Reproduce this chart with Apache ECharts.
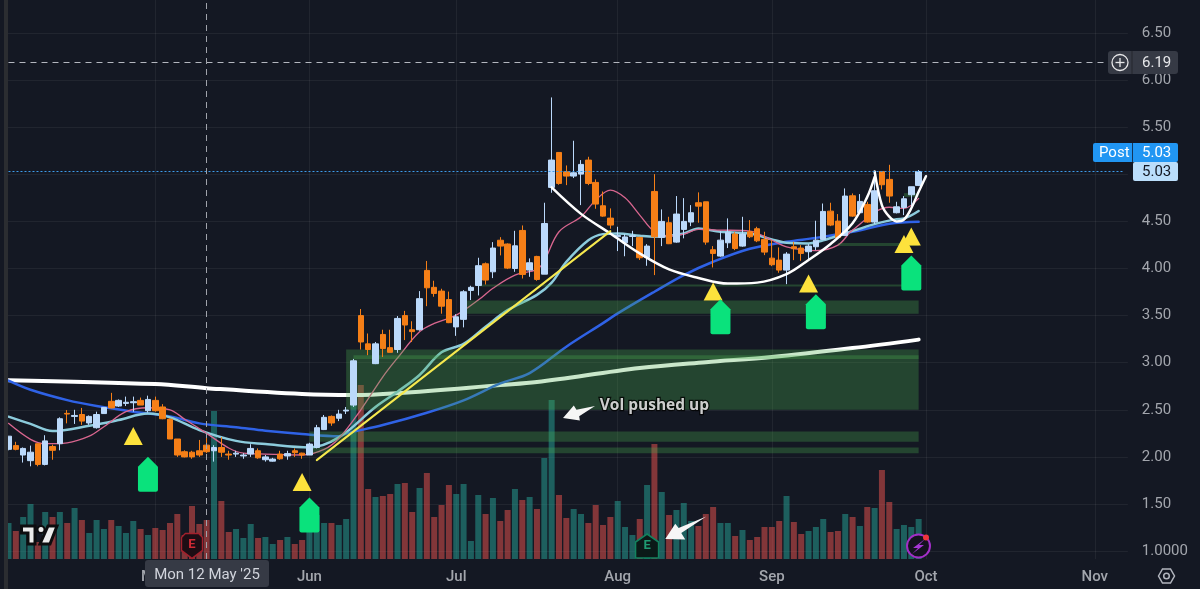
<!DOCTYPE html>
<html><head><meta charset="utf-8">
<script src="https://cdn.jsdelivr.net/npm/echarts@6/dist/echarts.min.js"></script>
<style>html,body{margin:0;padding:0;background:#141823}#c{width:1200px;height:589px}</style>
</head><body><div id="c"></div>
<script>
// trading days, Apr 2 2025 .. Sep 30 2025, then future slots
const monthDays = {
  Apr:[2,3,4,7,8,9,10,11,14,15,16,17,21,22,23,24,25,28,29,30],
  May:[1,2,5,6,7,8,9,12,13,14,15,16,19,20,21,22,23,27,28,29,30],
  Jun:[2,3,4,5,6,9,10,11,12,13,16,17,18,20,23,24,25,26,27,30],
  Jul:[1,2,3,7,8,9,10,11,14,15,16,17,18,21,22,23,24,25,28,29,30,31],
  Aug:[1,4,5,6,7,8,11,12,13,14,15,18,19,20,21,22,25,26,27,28,29],
  Sep:[2,3,4,5,8,9,10,11,12,15,16,17,18,19,22,23,24,25,26,29,30],
  Oct:[1,2,3,6,7,8,9,10,13,14,15,16,17,20,21,22,23,24,27,28,29,30,31],
  Nov:[3,4,5,6,7]
};
const categories = Object.keys(monthDays).flatMap(m => monthDays[m].map(d => m + ' ' + d));
const monthTicks = {20:'May',41:'Jun',61:'Jul',83:'Aug',104:'Sep',125:'Oct',148:'Nov'};
const priceLabels = {1:'1.0000',1.5:'1.50',2:'2.00',2.5:'2.50',3:'3.00',3.5:'3.50',4:'4.00',4.5:'4.50',5:'',5.5:'5.50',6:'6.00',6.5:'6.50'};

// open, close, low, high
const candles = [
[2.08,2.22,2.07,2.22],[2.12,2.08,2.07,2.16],[2.02,2.09,1.94,2.10],[1.96,2.05,1.90,2.12],[2.14,1.92,1.90,2.14],
[1.92,2.17,1.91,2.23],[2.11,2.07,1.97,2.13],[2.14,2.405,2.07,2.42],[2.462,2.455,2.356,2.497],[2.43,2.44,2.35,2.50],
[2.45,2.38,2.34,2.52],[2.36,2.43,2.34,2.44],[2.31,2.45,2.30,2.48],[2.46,2.525,2.46,2.53],[2.59,2.52,2.515,2.68],
[2.54,2.60,2.53,2.61],[2.568,2.58,2.54,2.64],[2.575,2.586,2.48,2.64],[2.60,2.55,2.55,2.63],[2.49,2.61,2.47,2.65],
[2.60,2.49,2.48,2.64],[2.53,2.405,2.40,2.56],[2.40,2.19,2.19,2.41],[2.19,2.02,2.00,2.19],[2.055,2.00,1.995,2.07],
[2.05,2.00,1.98,2.065],[2.065,2.02,2.00,2.18],[2.125,2.055,2.04,2.23],[2.065,2.10,1.95,2.125],[2.10,2.05,2.00,2.21],
[2.03,2.02,1.97,2.065],[2.03,2.04,2.00,2.065],[2.01,2.02,1.98,2.04],[2.03,2.09,2.00,2.135],[2.065,1.99,1.98,2.09],
[1.97,2.00,1.95,2.02],[1.955,1.977,1.95,1.99],[2.03,1.98,1.97,2.065],[2.01,2.035,1.97,2.065],[2.065,2.045,2.00,2.09],
[2.04,2.02,1.98,2.045],[2.02,2.136,2.02,2.15],[2.10,2.31,2.09,2.34],[2.29,2.42,2.285,2.445],[2.43,2.36,2.33,2.44],
[2.41,2.455,2.38,2.50],[2.487,2.497,2.455,2.53],[2.55,3.02,2.53,3.04],[3.50,3.22,3.14,3.57],[3.20,3.14,3.08,3.31],
[2.99,3.20,2.985,3.22],[3.30,3.15,3.06,3.35],[3.16,3.11,3.11,3.35],[3.14,3.47,3.105,3.495],[3.50,3.40,3.24,3.55],
[3.35,3.33,3.22,3.44],[3.35,3.68,3.34,3.76],[3.98,3.795,3.60,4.08],[3.80,3.735,3.70,3.87],[3.76,3.60,3.52,3.785],
[3.67,3.425,3.42,3.755],[3.38,3.487,3.285,3.515],[3.46,3.753,3.375,3.77],[3.767,3.80,3.665,3.817],[3.82,4.03,3.714,4.114],
[4.05,3.877,3.83,4.064],[3.965,4.217,3.898,4.28],[4.30,4.238,4.139,4.333],[4.26,4.004,3.994,4.266],[4.00,4.241,3.965,4.40],
[4.404,3.937,3.894,4.457],[3.983,4.061,3.912,4.107],[4.128,3.884,3.87,4.135],[3.94,4.478,3.94,4.698],[4.861,5.151,4.804,5.816],
[5.232,4.903,4.889,5.232],[5.027,4.981,4.885,5.094],[4.981,5.016,4.96,5.356],[5.002,5.105,4.673,5.151],[5.151,4.903,4.885,5.186],
[4.914,4.684,4.634,4.946],[4.666,4.556,4.549,4.818],[4.535,4.461,4.422,4.638],[4.337,4.351,4.185,4.443],[4.273,4.335,4.13,4.365],
[4.34,4.347,4.238,4.40],[4.33,4.114,4.09,4.337],[4.117,4.238,4.029,4.259],[4.818,4.337,3.93,5.002],[4.33,4.50,4.238,4.627],
[4.486,4.263,4.259,4.549],[4.28,4.578,4.273,4.769],[4.415,4.50,4.32,4.747],[4.493,4.592,4.45,4.673],[4.698,4.662,4.486,4.808],
[4.708,4.28,4.252,4.708],[4.199,4.16,4.011,4.238],[4.132,4.301,4.125,4.397],[4.273,4.386,4.217,4.532],[4.365,4.213,4.195,4.386],
[4.238,4.365,4.231,4.549],[4.39,4.337,4.323,4.514],[4.422,4.294,4.28,4.443],[4.309,4.174,4.142,4.39],[4.11,4.04,4.025,4.301],
[4.089,3.983,3.955,4.224],[3.983,4.153,3.834,4.174],[4.231,4.21,4.089,4.284],[4.217,4.16,4.082,4.248],[4.178,4.238,4.082,4.259],
[4.231,4.301,4.195,4.507],[4.309,4.606,4.301,4.69],[4.609,4.461,4.45,4.698],[4.503,4.33,4.319,4.578],[4.351,4.769,4.344,4.85],
[4.772,4.556,4.549,4.797],[4.592,4.712,4.585,4.79],[4.68,4.493,4.486,4.708],[4.493,4.825,4.471,5.016],[5.03,4.889,4.839,5.03],
[4.946,4.769,4.698,5.101],[4.592,4.655,4.585,4.708],[4.648,4.74,4.567,4.769],[4.783,4.868,4.627,4.868],[4.882,5.03,4.875,5.045]
];
const volumes = [36,28,42,55,17,47,42,47,36,51,39,26,39,30,39,33,26,38,30,24,31,29,36,45,24,53,35,39,148,58,27,30,21,35,21,22,15,19,22,15,19,35,44,36,36,34,40,160,174,70,62,63,65,75,76,47,71,86,42,54,74,65,75,18,64,45,61,38,49,70,59,62,50,101,159,64,41,50,45,36,54,34,42,58,32,24,40,74,115,67,44,49,56,38,33,45,52,36,36,23,29,19,22,32,32,38,63,37,25,28,32,40,27,28,45,42,33,52,51,89,57,30,34,32,40];

// moving averages read at selected bars: [bar, price]
const maWhite = [[0,2.815],[20,2.773],[27,2.73],[40,2.667],[47,2.656],[53,2.677],[67,2.762],[72,2.794],[86,2.943],[95,3.006],[104,3.06],[115,3.155],[124,3.245]];
const maBlue = [[0,2.81],[3,2.713],[8,2.603],[12,2.54],[17,2.48],[22,2.43],[26,2.356],[31,2.315],[35,2.278],[40,2.243],[45,2.22],[46,2.249],[51,2.338],[57,2.469],[62,2.60],[67,2.78],[71,2.89],[76,3.17],[81,3.42],[83,3.523],[88,3.753],[92,3.93],[96,4.072],[101,4.21],[106,4.284],[110,4.325],[115,4.39],[120,4.475],[124,4.496]];
const maCyan = [[0,2.427],[3,2.35],[6,2.274],[11,2.33],[15,2.391],[19,2.46],[22,2.42],[26,2.285],[31,2.17],[35,2.136],[41,2.10],[45,2.207],[50,2.53],[53,2.692],[56,2.87],[59,3.11],[62,3.20],[65,3.382],[68,3.558],[72,3.72],[74,3.85],[76,4.07],[79,4.30],[81,4.365],[83,4.372],[86,4.348],[88,4.337],[92,4.372],[94,4.425],[97,4.39],[101,4.372],[104,4.309],[106,4.273],[109,4.266],[111,4.30],[114,4.372],[118,4.471],[121,4.524],[122,4.531],[124,4.61]];
const maPink = [[0,2.356],[3,2.186],[5,2.14],[8,2.15],[11,2.22],[13,2.32],[16,2.48],[19,2.522],[22,2.50],[24,2.40],[27,2.25],[30,2.095],[32,2.04],[35,2.03],[40,2.02],[43,2.08],[45,2.196],[48,2.50],[51,2.85],[53,3.05],[56,3.328],[58,3.417],[61,3.505],[64,3.665],[66,3.79],[69,3.93],[72,3.99],[73,4.08],[75,4.39],[78,4.55],[80,4.726],[82,4.832],[84,4.75],[86,4.567],[88,4.39],[90,4.344],[92,4.365],[94,4.415],[97,4.408],[101,4.397],[104,4.30],[106,4.23],[110,4.19],[113,4.248],[115,4.408],[120,4.65],[122,4.638],[124,4.744]];

// hand-drawn overlays
const curveBowl = [[74,4.861],[78,4.58],[82,4.372],[86,4.16],[90,3.99],[94,3.90],[98,3.84],[102,3.85],[106,3.94],[109,4.09],[112,4.26],[115,4.48],[117,4.76],[118,4.97]];
const curveCup = [[118,5.03],[119,4.67],[120,4.55],[121,4.50],[122,4.52],[123,4.64],[124,4.815],[125,4.98]];
const trendLine = [[42,1.966],[82,4.397]];

// shaded price zones: start bar, end bar, upper, lower
const zones = [[46,124,3.14,2.50],[47,124,3.08,3.04],[62,124,3.66,3.52],[64,124,3.83,3.81],[113,124,4.27,4.24],[122,124,4.80,4.76],[46,124,2.27,2.16],[41,124,2.10,2.04],[41,46,2.27,2.16]];

const triangles = [[17,2.221],[40,1.733],[96,3.755],[109,3.84],[122,4.259],[123,4.339]];
const arrows = [[19,1.817],[41,1.382],[97,3.489],[110,3.541],[123,3.951]];
const earningsRed = [25];
const earningsGreen = [87];
const crosshairBar = 27, crosshairLevel = 6.19, lastPrice = 5.03;

const BG='#141823', GRID='rgba(255,255,255,0.06)', LABEL='#a3a6ad', FONT='Roboto';
const UP='#bbd9fb', DOWN='#f57f17';
const gridLeft=4.83, gridWidth=1123;
const labelBarNote = 'Vol pushed up';

const line = (name,data,color,width,z,smooth) => ({type:'line',name,data,xAxisIndex:0,yAxisIndex:0,z,symbol:'none',silent:true,smooth:smooth===undefined?0.35:smooth,smoothMonotone:null,lineStyle:{color,width,cap:'round',join:'round'},clip:false});
const housePath='path://M10,0 L20,10 L20,33 Q20,35 18,35 L2,35 Q0,35 0,33 L0,10 Z';
const badgePath='path://M4,0 L18,0 L22,4 L22,17 L11,25 L0,17 L0,4 Z';
const hexGreenPath='path://M11.5,0 L23,8 L23,24 L0,24 L0,8 Z';

const option = {
  animation:false, backgroundColor:BG,
  grid:[
    {left:gridLeft,width:gridWidth,top:33,height:518.1},
    {left:gridLeft,width:gridWidth,top:0,height:559}
  ],
  xAxis:[
    {type:'category',gridIndex:0,data:categories,show:false},
    {type:'category',gridIndex:1,data:categories,axisLine:{show:false},axisTick:{show:false},splitLine:{show:false},
     axisLabel:{show:true,margin:11,color:LABEL,fontFamily:FONT,fontSize:15,fontWeight:500,hideOverlap:false,
       interval:(i)=>monthTicks[i]!==undefined,formatter:(v,i)=>monthTicks[i]||''}}
  ],
  yAxis:[
    {type:'value',gridIndex:0,position:'right',min:1,max:6.5,interval:0.5,axisLine:{show:false},axisTick:{show:false},
     splitLine:{lineStyle:{color:GRID,width:1}},
     axisLabel:{margin:14,padding:[2,0,0,0],color:LABEL,fontFamily:FONT,fontSize:15,align:'left',formatter:v=>priceLabels[v]!==undefined?priceLabels[v]:''}},
    {type:'value',gridIndex:1,min:0,max:559,show:false,splitLine:{show:false}}
  ],
  series:[
    {type:'bar',name:'Volume',xAxisIndex:1,yAxisIndex:1,barWidth:6,z:1,silent:true,
     data:volumes.map((v,i)=>({value:v,itemStyle:{color:candles[i][1]>=candles[i][0]?'rgba(38,166,154,0.5)':'rgba(239,83,80,0.5)'}})),
     markLine:{silent:true,symbol:'none',z:0,animation:false,label:{show:false},lineStyle:{color:GRID,type:'solid',width:1},
       data:Object.keys(monthTicks).map(i=>({xAxis:+i}))}},
    line('MA white',maWhite,'#ffffff',4,2),
    line('MA blue',maBlue,'#2f62e6',2.5,2),
    line('MA cyan',maCyan,'#8ccbdc',2.5,2),
    line('MA pink',maPink,'#d9668f',1.3,2),
    {type:'line',name:'Zones',xAxisIndex:0,yAxisIndex:0,data:[],z:3,silent:true,
     markArea:{silent:true,z:3,animation:false,itemStyle:{color:'rgba(76,175,80,0.3)'},label:{show:false},
       data:zones.map(z=>[{coord:[z[0],z[2]]},{coord:[z[1],z[3]]}])}},
    {type:'candlestick',name:'Price',xAxisIndex:0,yAxisIndex:0,data:candles,barWidth:6,z:4,silent:true,
     itemStyle:{color:UP,color0:DOWN,borderColor:UP,borderColor0:DOWN,borderWidth:1}},
    line('Bowl',curveBowl,'#ffffff',2.5,5),
    line('Cup',curveCup,'#ffffff',2.5,5),
    line('Trend',trendLine,'#f6e84e',2,5,false),
    {type:'scatter',name:'Triangles',xAxisIndex:0,yAxisIndex:0,data:triangles,symbol:'triangle',symbolSize:[19,18],z:6,silent:true,clip:false,
     itemStyle:{color:'#fde23c',opacity:1}},
    {type:'scatter',name:'Arrows',xAxisIndex:0,yAxisIndex:0,data:arrows,symbol:housePath,symbolSize:[20,35],z:6,silent:true,clip:false,
     itemStyle:{color:'#0ae27c',opacity:1}},
    {type:'scatter',name:'Note arrow',xAxisIndex:0,yAxisIndex:0,data:[[78,2.465]],symbol:'path://M0,38 L32,0 L40,13 L95,1 L48,33 L50,46 Z',symbolSize:[32,15],symbolOffset:[-2,0],z:6,silent:true,itemStyle:{color:'#f6f6f6',opacity:1}},
    {type:'scatter',name:'E arrow',xAxisIndex:0,yAxisIndex:0,data:[[92,1.244]],symbol:'path://M0,68 L30,22 L40,35 L123,0 L48,50 L60,70 Z',symbolSize:[41,23],symbolOffset:[2,0],z:6,silent:true,itemStyle:{color:'#f6f6f6',opacity:1}},
    {type:'scatter',name:'Note',xAxisIndex:0,yAxisIndex:0,data:[[88,2.55]],symbolSize:1,z:7,silent:true,itemStyle:{color:'transparent'},
     label:{show:true,position:'inside',formatter:labelBarNote,color:'#ffffff',fontFamily:'Open Sans',fontWeight:700,fontSize:15.5,textBorderColor:'#000',textBorderWidth:2.5}},
    {type:'scatter',name:'Earnings',xAxisIndex:1,yAxisIndex:1,data:earningsRed.map(i=>[i,13]),symbol:badgePath,symbolSize:[21,25],z:7,silent:true,
     itemStyle:{color:'#1d0d14',borderColor:'#a3202c',borderWidth:1.5,opacity:1},
     label:{show:true,position:'inside',formatter:'E',color:'#d02a35',fontFamily:FONT,fontWeight:700,fontSize:13,offset:[0,-1]}},
    {type:'scatter',name:'Earnings next',xAxisIndex:1,yAxisIndex:1,data:earningsGreen.map(i=>[i,13]),symbol:hexGreenPath,symbolSize:[23,24],z:7,silent:true,
     itemStyle:{color:'#0b1a18',borderColor:'#12835f',borderWidth:1.5,opacity:1},
     label:{show:true,position:'inside',formatter:'E',color:'#1f9b72',fontFamily:FONT,fontWeight:700,fontSize:13}},
    {type:'line',name:'Levels',xAxisIndex:0,yAxisIndex:0,data:[],z:8,silent:true,
     markLine:{silent:true,symbol:'none',z:8,animation:false,label:{show:false},
       data:[
         [{coord:[0,crosshairLevel],lineStyle:{color:'#b4b7bf',type:[6,5],width:1}},{coord:[150,crosshairLevel]}],
         [{coord:[0,lastPrice],lineStyle:{color:'#3d9be9',type:[2,2],width:1}},{coord:[152,lastPrice]}]
       ]}},
    {type:'line',name:'Crosshair',xAxisIndex:1,yAxisIndex:1,data:[],z:8,silent:true,
     markLine:{silent:true,symbol:'none',z:8,animation:false,label:{show:false},
       lineStyle:{color:'#a0a3ab',type:[6,5],width:1},data:[{xAxis:crosshairBar}]}}
  ],
  graphic:{elements:[
    {type:'rect',shape:{x:4,y:0,width:4,height:589},style:{fill:'#2b2d31'},z:20},
    {type:'rect',shape:{x:0,y:0,width:4,height:589},style:{fill:'#141823'},z:20},
    // crosshair date tag
    {type:'rect',shape:{x:145,y:560,width:124,height:27,r:3},style:{fill:'#363a45'},z:20},
    {type:'text',x:207,y:575,style:{text:"Mon 12 May '25",fill:'#d1d4dc',font:'15px Roboto',align:'center',verticalAlign:'middle'},z:21},
    // 6.19 tag
    {type:'rect',shape:{x:1108,y:51,width:70,height:23,r:3},style:{fill:'#363a45'},z:20},
    {type:'line',shape:{x1:1132,y1:51,x2:1132,y2:74},style:{stroke:'#24272f',lineWidth:1},z:21},
    {type:'circle',shape:{cx:1120,cy:62.5,r:8},style:{fill:'none',stroke:'#e8e8ea',lineWidth:1.3},z:21},
    {type:'line',shape:{x1:1115.5,y1:62.5,x2:1124.5,y2:62.5},style:{stroke:'#e8e8ea',lineWidth:1.3},z:21},
    {type:'line',shape:{x1:1120,y1:58,x2:1120,y2:67},style:{stroke:'#e8e8ea',lineWidth:1.3},z:21},
    {type:'text',x:1142,y:63,style:{text:'6.19',fill:'#e6e7ea',font:'15px Roboto',verticalAlign:'middle'},z:21},
    // Post / last price tags
    {type:'rect',shape:{x:1093,y:143,width:85,height:19,r:2},style:{fill:'#2196f3'},z:20},
    {type:'line',shape:{x1:1132.5,y1:143,x2:1132.5,y2:162},style:{stroke:'#14365a',lineWidth:1},z:21},
    {type:'text',x:1099,y:153,style:{text:'Post',fill:'#fff',font:'15px Roboto',verticalAlign:'middle'},z:21},
    {type:'text',x:1142,y:153,style:{text:'5.03',fill:'#fff',font:'15px Roboto',verticalAlign:'middle'},z:21},
    {type:'rect',shape:{x:1133,y:162,width:45,height:19,r:2},style:{fill:'#bbdefb'},z:20},
    {type:'text',x:1142,y:172,style:{text:'5.03',fill:'#131722',font:'15px Roboto',verticalAlign:'middle'},z:21},
    // logo
    {type:'polygon',shape:{points:[[21.5,526],[35,526],[35,544],[28,544],[28,533],[21.5,533]]},style:{fill:'#ececec',stroke:'#0d0d0f',lineWidth:3},z:20},
    {type:'circle',shape:{cx:41,cy:529.5,r:3.5},style:{fill:'#ececec',stroke:'#0d0d0f',lineWidth:2},z:20},
    {type:'polygon',shape:{points:[[48,526],[57,526],[50,544],[40,544]]},style:{fill:'#ececec',stroke:'#0d0d0f',lineWidth:3},z:20},
    // flash badge
    {type:'circle',shape:{cx:918.5,cy:546,r:11.5},style:{fill:'#14121f',stroke:'#a22fc7',lineWidth:2},z:20},
    {type:'polygon',shape:{points:[[925,539],[913,548],[918,548],[912,554],[924,545],[919,545]]},style:{fill:'#a736d6'},z:21},
    {type:'circle',shape:{cx:926,cy:537.5,r:3},style:{fill:'#f0353d'},z:21},
    // settings gear
    {type:'polygon',shape:{points:[[1158.5,576],[1162.5,569],[1170.5,569],[1174.5,576],[1170.5,583],[1162.5,583]]},style:{fill:'none',stroke:'#b2b5be',lineWidth:1.5},z:20},
    {type:'circle',shape:{cx:1166.5,cy:576,r:2.8},style:{fill:'none',stroke:'#b2b5be',lineWidth:1.5},z:20}
  ]}
};
const chart = echarts.init(document.getElementById('c'),null,{renderer:'canvas'});
chart.setOption(option);
</script></body></html>
